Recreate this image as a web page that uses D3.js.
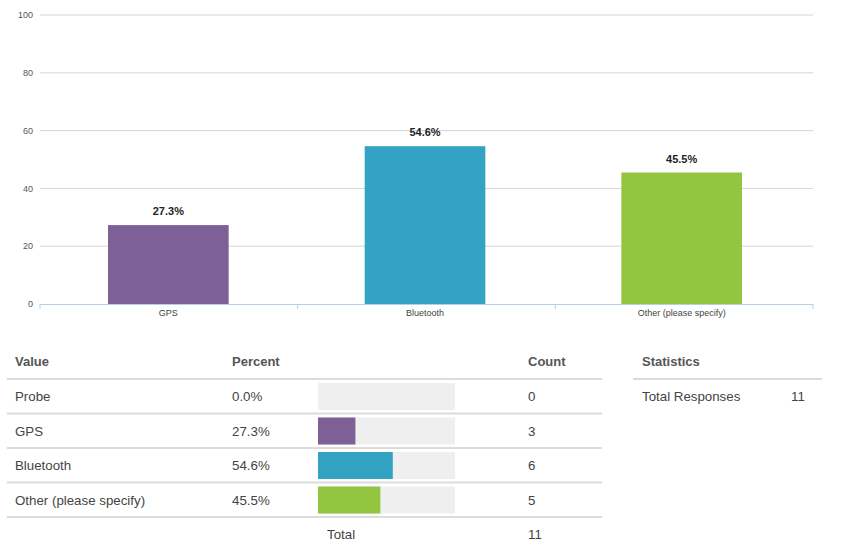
<!DOCTYPE html>
<html><head><meta charset="utf-8">
<script src="https://cdn.jsdelivr.net/npm/d3@7"></script>
<style>
body{margin:0;background:#fff;font-family:"Liberation Sans",Arial,sans-serif;}
</style></head>
<body><svg id="c" width="843" height="555"></svg>
<script>
const chartCategories = ["GPS", "Bluetooth", "Other (please specify)"];
const chartPercents = [27.3, 54.6, 45.5];
const chartColors = ["#7d6096", "#33a3c3", "#93c540"];
const yTicks = [0, 20, 40, 60, 80, 100];

const tableValues = ["Probe", "GPS", "Bluetooth", "Other (please specify)"];
const tablePercents = [0.0, 27.3, 54.6, 45.5];
const tableCounts = [0, 3, 6, 5];
const tableColors = ["#cccccc", "#7d6096", "#33a3c3", "#93c540"];
const totalCount = 11;
const statLabels = ["Total Responses"];
const statValues = [11];

const svg = d3.select("#c");
const x = d3.scaleBand().domain(chartCategories).range([40, 810]).paddingInner(0.53).paddingOuter(0.265);
const xb = d3.scaleBand().domain(chartCategories).range([40, 813]);
const y = d3.scaleLinear().domain([0, 100]).range([304, 15]);

// gridlines
svg.append("g").selectAll("line").data(yTicks.filter(d => d > 0)).join("line")
  .attr("x1", 40).attr("x2", 813).attr("y1", d => y(d)).attr("y2", d => y(d))
  .attr("stroke", "#d6d6d6").attr("stroke-width", 1);
// y labels
svg.append("g").selectAll("text").data(yTicks).join("text")
  .attr("x", 33).attr("y", d => y(d)).attr("dy", "0.35em").attr("text-anchor", "end")
  .attr("font-size", 9).attr("fill", "#555").text(d => d);
// bars
svg.append("g").selectAll("rect").data(chartPercents).join("rect")
  .attr("x", (d, i) => x(chartCategories[i])).attr("width", x.bandwidth())
  .attr("y", d => y(d)).attr("height", d => y(0) - y(d))
  .attr("fill", (d, i) => chartColors[i]);
// x axis line
svg.append("line").attr("x1", 40).attr("x2", 813).attr("y1", 304.5).attr("y2", 304.5)
  .attr("stroke", "#b8cfe3").attr("stroke-width", 1);
const bounds = chartCategories.map(c => xb(c)).concat([813]);
svg.append("g").selectAll("line").data(bounds).join("line")
  .attr("x1", d => d).attr("x2", d => d).attr("y1", 304).attr("y2", 309)
  .attr("stroke", "#b8cfe3");
// x labels
svg.append("g").selectAll("text").data(chartCategories).join("text")
  .attr("x", d => x(d) + x.bandwidth() / 2).attr("y", 316)
  .attr("text-anchor", "middle").attr("font-size", 9).attr("fill", "#444").text(d => d);
// value labels
svg.append("g").selectAll("text").data(chartPercents).join("text")
  .attr("x", (d, i) => x(chartCategories[i]) + x.bandwidth() / 2).attr("y", d => y(d) - 10)
  .attr("text-anchor", "middle").attr("font-size", 11).attr("font-weight", "bold")
  .attr("fill", "#222").text(d => d.toFixed(1) + "%");

// table
const hdr = svg.append("g").attr("font-size", 13).attr("font-weight", "bold").attr("fill", "#555");
hdr.append("text").attr("x", 15).attr("y", 366).text("Value");
hdr.append("text").attr("x", 232).attr("y", 366).text("Percent");
hdr.append("text").attr("x", 528).attr("y", 366).text("Count");
hdr.append("text").attr("x", 642).attr("y", 366).text("Statistics");

const rowTop = 379, rowH = 34.5;
const lineYs = d3.range(tableValues.length + 1).map(i => rowTop + i * rowH);
svg.append("g").selectAll("line").data(lineYs).join("line")
  .attr("x1", 7).attr("x2", 602).attr("y1", d => d).attr("y2", d => d)
  .attr("stroke", "#dcdcdc").attr("stroke-width", 2);
svg.append("line").attr("x1", 633).attr("x2", 822).attr("y1", rowTop).attr("y2", rowTop)
  .attr("stroke", "#dcdcdc").attr("stroke-width", 2);

const mini = d3.scaleLinear().domain([0, 100]).range([318, 455]);
const rows = svg.append("g").selectAll("g").data(tableValues).join("g")
  .attr("transform", (d, i) => `translate(0,${rowTop + i * rowH})`);
rows.append("rect").attr("x", mini(0)).attr("y", 4).attr("width", mini(100) - mini(0)).attr("height", 27)
  .attr("fill", "#efefef");
rows.append("rect").attr("x", mini(0)).attr("y", 4)
  .attr("width", (d, i) => mini(tablePercents[i]) - mini(0)).attr("height", 27)
  .attr("fill", (d, i) => tableColors[i]);
rows.append("text").attr("x", 15).attr("y", 22).attr("font-size", 13.3).attr("fill", "#444").text(d => d);
rows.append("text").attr("x", 232).attr("y", 22).attr("font-size", 13.3).attr("fill", "#444")
  .text((d, i) => tablePercents[i].toFixed(1) + "%");
rows.append("text").attr("x", 528).attr("y", 22).attr("font-size", 13.3).attr("fill", "#444")
  .text((d, i) => tableCounts[i]);

const totY = rowTop + tableValues.length * rowH + 22;
svg.append("text").attr("x", 327).attr("y", totY).attr("font-size", 13.3).attr("fill", "#444").text("Total");
svg.append("text").attr("x", 528).attr("y", totY).attr("font-size", 13.3).attr("fill", "#444").text(totalCount);

statLabels.forEach((s, i) => {
  svg.append("text").attr("x", 642).attr("y", rowTop + 22 + i * rowH).attr("font-size", 13.3).attr("fill", "#444").text(s);
  svg.append("text").attr("x", 791).attr("y", rowTop + 22 + i * rowH).attr("font-size", 13.3).attr("fill", "#444").text(statValues[i]);
});
</script></body></html>
